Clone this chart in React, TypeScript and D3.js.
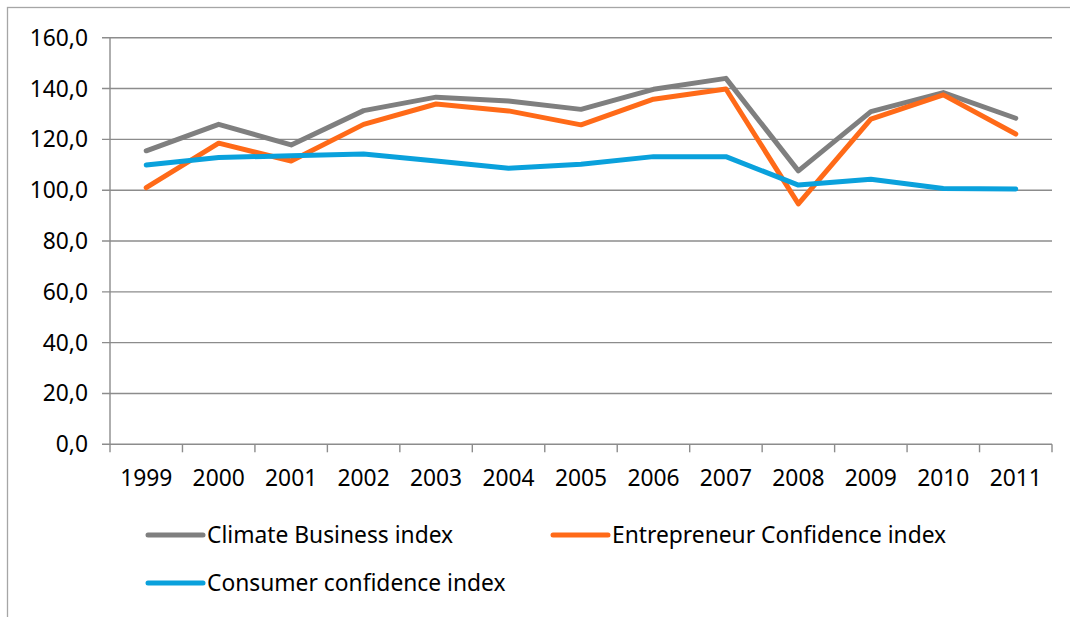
import React from "react";
import * as d3 from "d3";

const years = ["1999","2000","2001","2002","2003","2004","2005","2006","2007","2008","2009","2010","2011"];
const climateBusiness = [115.5,125.9,117.8,131.3,136.6,135.1,131.8,139.7,144.0,107.6,130.9,138.4,128.3];
const entrepreneurConfidence = [101.0,118.5,111.5,125.9,133.9,131.2,125.7,135.8,139.8,94.6,128.0,137.5,122.1];
const consumerConfidence = [109.9,112.9,113.5,114.2,111.5,108.6,110.2,113.2,113.2,102.0,104.3,100.7,100.5];
const yTicks = [0,20,40,60,80,100,120,140,160];

const seriesNames = ["Climate Business index","Entrepreneur Confidence index","Consumer confidence index"];
const seriesColors = ["#7F7F7F","#FF6A18","#0AA1DC"];

export default function App() {
  const W = 1070, H = 617;
  const left = 110, right = 1052, top = 37.7, bottom = 444.3;
  const x = d3.scaleBand().domain(years).range([left, right]);
  const y = d3.scaleLinear().domain([0,160]).range([bottom, top]);
  const font = "'Noto Sans', sans-serif";
  const fs = 22.8;
  const series = [climateBusiness, entrepreneurConfidence, consumerConfidence];
  const line = d3.line<number>()
    .x((_, i) => (x(years[i]) as number) + x.bandwidth() / 2)
    .y(d => y(d));
  const gridColor = "#8C8C8C";
  const legend = [
    { i: 0, lx: 148, ly: 535 },
    { i: 1, lx: 553, ly: 535 },
    { i: 2, lx: 148, ly: 583 },
  ];
  return (
    <svg width={W} height={H} style={{ position: "absolute", left: 0, top: 0, background: "#fff" }}>
      <rect x={7.5} y={7.5} width={W + 10} height={H + 10} fill="#fff" stroke="#A6A6A6" strokeWidth={1.3} />
      {yTicks.map(t => (
        <g key={t}>
          <line x1={102} x2={right} y1={y(t)} y2={y(t)} stroke={gridColor} strokeWidth={1.4} />
          <text x={88} y={y(t)} dy="0.35em" textAnchor="end" fontFamily={font} fontSize={fs} fill="#000">
            {d3.format(".1f")(t).replace(".", ",")}
          </text>
        </g>
      ))}
      <line x1={left} x2={left} y1={top} y2={bottom} stroke={gridColor} strokeWidth={1.4} />
      {years.map((yr, i) => (
        <line key={"t" + i} x1={(x(yr) as number)} x2={(x(yr) as number)} y1={bottom} y2={bottom + 8} stroke={gridColor} strokeWidth={1.4} />
      ))}
      <line x1={right} x2={right} y1={bottom} y2={bottom + 8} stroke={gridColor} strokeWidth={1.4} />
      {years.map(yr => (
        <text key={yr} x={(x(yr) as number) + x.bandwidth() / 2} y={486} textAnchor="middle" fontFamily={font} fontSize={fs} fill="#000">
          {yr}
        </text>
      ))}
      {series.map((s, i) => (
        <path key={i} d={line(s) || ""} fill="none" stroke={seriesColors[i]} strokeWidth={5} strokeLinejoin="round" strokeLinecap="round" />
      ))}
      {legend.map(({ i, lx, ly }) => (
        <g key={i}>
          <line x1={lx} x2={lx + 55} y1={ly} y2={ly} stroke={seriesColors[i]} strokeWidth={5} strokeLinecap="round" />
          <text x={lx + 59} y={ly} dy="0.35em" fontFamily={font} fontSize={fs} fill="#000">{seriesNames[i]}</text>
        </g>
      ))}
    </svg>
  );
}
